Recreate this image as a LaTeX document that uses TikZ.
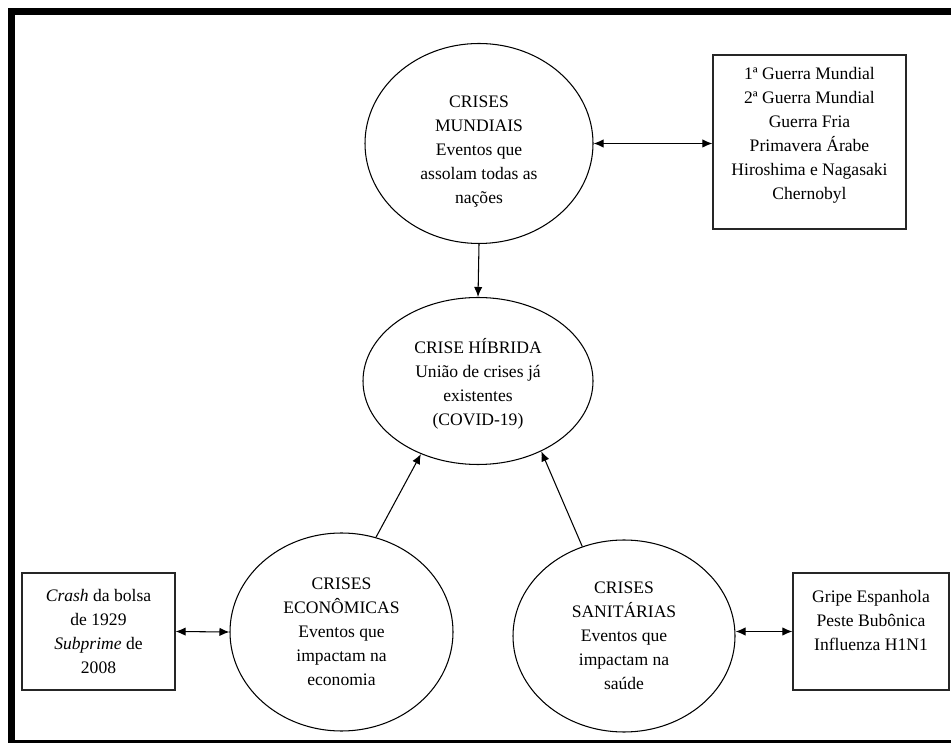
\documentclass[tikz,border=0pt]{standalone}
\usepackage{fontspec}
\setmainfont{Liberation Serif}
\usetikzlibrary{arrows.meta,shapes.geometric}
\newcommand{\crisefont}{\fontsize{15}{20.5}\selectfont}
\newcommand{\fundo}[1]{\rule[-#1]{0pt}{#1}}
\newcommand{\topo}[1]{\rule{0pt}{#1}}
\tikzset{
  crise/.style     = {draw,ellipse,line width=0.9pt,inner sep=0pt,
                      align=center,font=\crisefont},
  lista/.style     = {draw=black!85,line width=1pt,inner sep=0pt,
                      align=center,font=\crisefont},
  seta/.style      = {-{Latex[length=3mm,width=2.5mm]},line width=0.9pt},
  setadupla/.style = {{Latex[length=3mm,width=2.5mm]}-{Latex[length=3mm,width=2.5mm]},
                      line width=0.9pt},
  moldura/.style   = {line width=0.22cm},
}

\begin{document}
\begin{tikzpicture}
  \useasboundingbox (0,0) rectangle (28.53,22.26);
  \draw[moldura] (29,21.92) -- (0.345,21.92) -- (0.345,-0.045) -- (29,-0.045);
  \node[crise,minimum width=6.84cm,minimum height=6.0cm] (mundiais) at (14.37,17.955)
        {\topo{0.85cm}CRISES\\MUNDIAIS\\Eventos que\\assolam todas as\\nações};
  \node[crise,minimum width=6.9cm,minimum height=5.01cm] (hibrida) at (14.34,10.83)
        {\topo{0.6cm}CRISE HÍBRIDA\\União de crises já\\existentes\\(COVID-19)};
  \node[crise,minimum width=6.69cm,minimum height=5.94cm] (economicas) at (10.245,3.3)
        {CRISES\\ECONÔMICAS\\Eventos que\\impactam na\\economia};
  \node[crise,minimum width=6.66cm,minimum height=5.76cm] (sanitarias) at (18.72,3.18)
        {CRISES\\SANITÁRIAS\\Eventos que\\impactam na\\saúde};
  \node[lista,minimum width=5.79cm,minimum height=5.22cm] (guerras) at (24.285,18.0)
        {1ª Guerra Mundial\\2ª Guerra Mundial\\Guerra Fria\\Primavera Árabe\\
         Hiroshima e Nagasaki\\Chernobyl\fundo{0.52cm}};
  \node[lista,minimum width=4.59cm,minimum height=3.51cm] (crash) at (2.955,3.315)
        {\textit{Crash} da bolsa\\de 1929\\\textit{Subprime} de\\2008};
  \node[lista,minimum width=4.68cm,minimum height=3.51cm] (gripe) at (26.13,3.315)
        {Gripe Espanhola\\Peste Bubônica\\Influenza H1N1\fundo{0.67cm}};
  \draw[setadupla] (mundiais.east) -- (mundiais.east -| guerras.west);
  \draw[seta] (mundiais.south) -- (hibrida.north);
  \draw[seta] (economicas.70) -- (hibrida.232);
  \draw[seta] (sanitarias.115) -- (hibrida.312);
  \draw[setadupla] (crash.east) -- (economicas.west);
  \draw[setadupla] (sanitarias.east |- gripe.west) -- (gripe.west);
\end{tikzpicture}
\end{document}
